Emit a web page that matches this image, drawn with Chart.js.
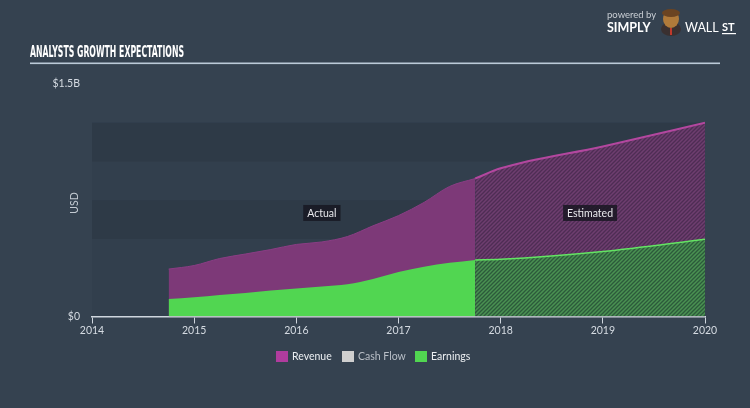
<!DOCTYPE html>
<html><head><meta charset="utf-8">
<script src="https://cdn.jsdelivr.net/npm/chart.js@4.4.1/dist/chart.umd.min.js"></script>
<style>html,body{margin:0;padding:0;background:#354250;overflow:hidden}canvas{display:block}</style>
</head><body>
<canvas id="c" width="750" height="408"></canvas>
<script>
// ---- data ----
const seriesNames = ['Revenue', 'Cash Flow', 'Earnings'];
const actualDates = [2014.75, 2015.0, 2015.25, 2015.5, 2015.75, 2016.0, 2016.25, 2016.5, 2016.75, 2017.0, 2017.25, 2017.5, 2017.75];
const revenueActual = [0.306, 0.329, 0.374, 0.403, 0.432, 0.465, 0.481, 0.516, 0.585, 0.651, 0.736, 0.839, 0.890];
const earningsActual = [0.113, 0.124, 0.139, 0.152, 0.168, 0.181, 0.194, 0.208, 0.242, 0.287, 0.321, 0.346, 0.365];
const estDates = [2017.75, 2018.0, 2019.0, 2020.0];
const revenueEst = [0.890, 0.956, 1.097, 1.250];
const earningsEst = [0.365, 0.369, 0.419, 0.498];
const xTickValues = [2014, 2015, 2016, 2017, 2018, 2019, 2020];
const xTickLabels = ['2014', '2015', '2016', '2017', '2018', '2019', '2020'];
const yTickValues = [0, 1.5];
const yTickLabels = ['$0', '$1.5B'];
const regionLabels = ['Actual', 'Estimated'];

// ---- styles ----
const FONT = 'Lato, "Open Sans", sans-serif';
const C = {
  bg: '#354250', plot: '#323f4d', band: '#2e3a47',
  revenue: '#7d3978', revenueLine: '#b3479f', revenueLegend: '#b03c9e',
  earnings: '#51d651', earningsLine: '#63e463',
  cash: '#cfcfcf', tick: '#d5dbe2', axis: '#cfd6de'
};
function hatch(base, line) {
  const c = document.createElement('canvas');
  c.width = 4; c.height = 4;
  const g = c.getContext('2d');
  g.fillStyle = base; g.fillRect(0, 0, 4, 4);
  g.strokeStyle = line; g.lineWidth = 1.3;
  g.beginPath();
  g.moveTo(0, 4); g.lineTo(4, 0);
  g.moveTo(-1, 1); g.lineTo(1, -1);
  g.moveTo(3, 5); g.lineTo(5, 3);
  g.stroke();
  return g.createPattern(c, 'repeat');
}
const revHatch = hatch('#6e3e6f', '#4e2d54');
const earnHatch = hatch('#4a9152', '#2c5a3b');

const pts = (xs, ys) => xs.map((x, i) => ({ x: x, y: ys[i] }));

const bgPlugin = {
  id: 'bg',
  beforeDraw(chart) {
    const ctx = chart.ctx, a = chart.chartArea, y = chart.scales.y;
    ctx.save();
    ctx.fillStyle = C.bg; ctx.fillRect(0, 0, chart.width, chart.height);
    ctx.fillStyle = C.plot;
    ctx.fillRect(a.left, y.getPixelForValue(1.25), a.right - a.left, y.getPixelForValue(0) - y.getPixelForValue(1.25));
    ctx.fillStyle = C.band;
    [[1.0, 1.25], [0.5, 0.75]].forEach(b => {
      const t = y.getPixelForValue(b[1]), bt = y.getPixelForValue(b[0]);
      ctx.fillRect(a.left, t, a.right - a.left, bt - t);
    });
    ctx.restore();
  }
};

const decoPlugin = {
  id: 'deco',
  afterDraw(chart) {
    const ctx = chart.ctx, x = chart.scales.x, y = chart.scales.y;
    ctx.save();
    // title
    ctx.fillStyle = '#ffffff';
    ctx.textBaseline = 'middle';
    ctx.font = 'bold 15px "Liberation Sans Narrow", "DejaVu Sans Condensed", sans-serif';
    const title = 'ANALYSTS GROWTH EXPECTATIONS';
    const tw = ctx.measureText(title).width;
    ctx.save();
    ctx.translate(30, 53);
    ctx.scale(154 / tw, 1.05);
    ctx.fillText(title, 0, 0);
    ctx.restore();
    // rule
    ctx.fillStyle = '#bccad8';
    ctx.fillRect(30, 62.5, 690, 1.6);
    // logo
    ctx.fillStyle = '#c9ced4';
    ctx.font = '9.5px ' + FONT;
    ctx.textAlign = 'left';
    ctx.fillText('powered by', 607, 15);
    ctx.fillStyle = '#ffffff';
    ctx.font = 'bold 12.5px ' + FONT;
    ctx.fillText('SIMPLY', 607, 27.5);
    // mascot
    ctx.fillStyle = '#3a3030';
    ctx.beginPath(); ctx.ellipse(671, 29, 10, 7, 0, 0, Math.PI * 2); ctx.fill();
    ctx.fillStyle = '#b07a3a';
    ctx.beginPath(); ctx.ellipse(671, 19, 8, 9, 0, 0, Math.PI * 2); ctx.fill();
    ctx.fillStyle = '#6b4422';
    ctx.beginPath(); ctx.ellipse(671, 13, 9, 4, 0, 0, Math.PI * 2); ctx.fill();
    ctx.fillStyle = '#c0392b'; ctx.fillRect(670, 28, 2, 7);
    ctx.fillStyle = '#ffffff';
    ctx.font = '12.5px ' + FONT;
    ctx.fillText('WALL', 685, 27.5);
    ctx.font = 'bold 11px ' + FONT;
    ctx.fillText('ST', 722, 27);
    ctx.fillRect(722, 33, 14, 1.2);
    // USD
    ctx.save();
    ctx.translate(75, 203);
    ctx.rotate(-Math.PI / 2);
    ctx.textAlign = 'center';
    ctx.fillStyle = '#c3cad2';
    ctx.font = '10.5px ' + FONT;
    ctx.fillText('USD', 0, 0);
    ctx.restore();
    // region labels
    const ranges = [[actualDates[0], actualDates[actualDates.length - 1]], [estDates[0], estDates[estDates.length - 1]]];
    ctx.font = '10.5px ' + FONT;
    ctx.textAlign = 'center';
    regionLabels.forEach((lab, i) => {
      const cx = x.getPixelForValue((ranges[i][0] + ranges[i][1]) / 2);
      const cy = y.getPixelForValue(0.668);
      const w = ctx.measureText(lab).width + 8;
      ctx.fillStyle = 'rgba(22,22,32,0.82)';
      ctx.fillRect(cx - w / 2, cy - 8, w, 16);
      ctx.fillStyle = '#e8e8ec';
      ctx.fillText(lab, cx, cy + 0.5);
    });
    // legend
    const colors = [C.revenueLegend, C.cash, C.earnings];
    const textCol = ['#eceff2', '#b9bfc7', '#eceff2'];
    const lx = [276, 342, 415];
    ctx.textAlign = 'left';
    ctx.font = '10.5px ' + FONT;
    seriesNames.forEach((n, i) => {
      ctx.fillStyle = colors[i];
      ctx.fillRect(lx[i], 351, 12, 11);
      ctx.fillStyle = textCol[i];
      ctx.fillText(n, lx[i] + 16, 357);
    });
    ctx.restore();
  }
};

new Chart(document.getElementById('c'), {
  type: 'line',
  data: {
    datasets: [
      { label: seriesNames[2], data: pts(actualDates, earningsActual), order: 0,
        fill: 'origin', backgroundColor: C.earnings, borderColor: C.earnings, borderWidth: 0, pointRadius: 0, cubicInterpolationMode: 'monotone' },
      { label: seriesNames[2] + ' est', data: pts(estDates, earningsEst), order: 1,
        fill: 'origin', backgroundColor: earnHatch, borderColor: C.earningsLine, borderWidth: 1.5, pointRadius: 0, cubicInterpolationMode: 'monotone' },
      { label: seriesNames[0], data: pts(actualDates, revenueActual), order: 2,
        fill: 'origin', backgroundColor: C.revenue, borderColor: '#8a3d84', borderWidth: 1, pointRadius: 0, cubicInterpolationMode: 'monotone' },
      { label: seriesNames[0] + ' est', data: pts(estDates, revenueEst), order: 3,
        fill: 'origin', backgroundColor: revHatch, borderColor: C.revenueLine, borderWidth: 2, pointRadius: 0, cubicInterpolationMode: 'monotone' }
    ]
  },
  options: {
    responsive: false, animation: false, devicePixelRatio: 1,
    layout: { padding: { top: 84, right: 45, left: 0, bottom: 0 } },
    plugins: { legend: { display: false }, tooltip: { enabled: false } },
    scales: {
      x: {
        type: 'linear', min: 2014, max: 2020,
        afterBuildTicks: s => { s.ticks = xTickValues.map(v => ({ value: v })); },
        afterFit: s => { s.height = 408 - 316.5; },
        ticks: { color: C.tick, font: { family: FONT, size: 10.5 }, padding: 1, maxRotation: 0,
          callback: (v) => xTickLabels[xTickValues.indexOf(v)] },
        grid: { display: true, drawOnChartArea: false, drawTicks: true, tickLength: 7, color: C.axis, lineWidth: 1 },
        border: { display: true, color: C.axis, width: 1.5 }
      },
      y: {
        min: 0, max: 1.5,
        afterBuildTicks: s => { s.ticks = yTickValues.map(v => ({ value: v })); },
        afterFit: s => { s.width = 92; },
        ticks: { color: C.tick, font: { family: FONT, size: 10.5 }, padding: 12,
          callback: (v) => yTickLabels[yTickValues.indexOf(v)] },
        grid: { display: false, drawTicks: false },
        border: { display: false }
      }
    }
  },
  plugins: [bgPlugin, decoPlugin]
});
</script>
</body></html>
